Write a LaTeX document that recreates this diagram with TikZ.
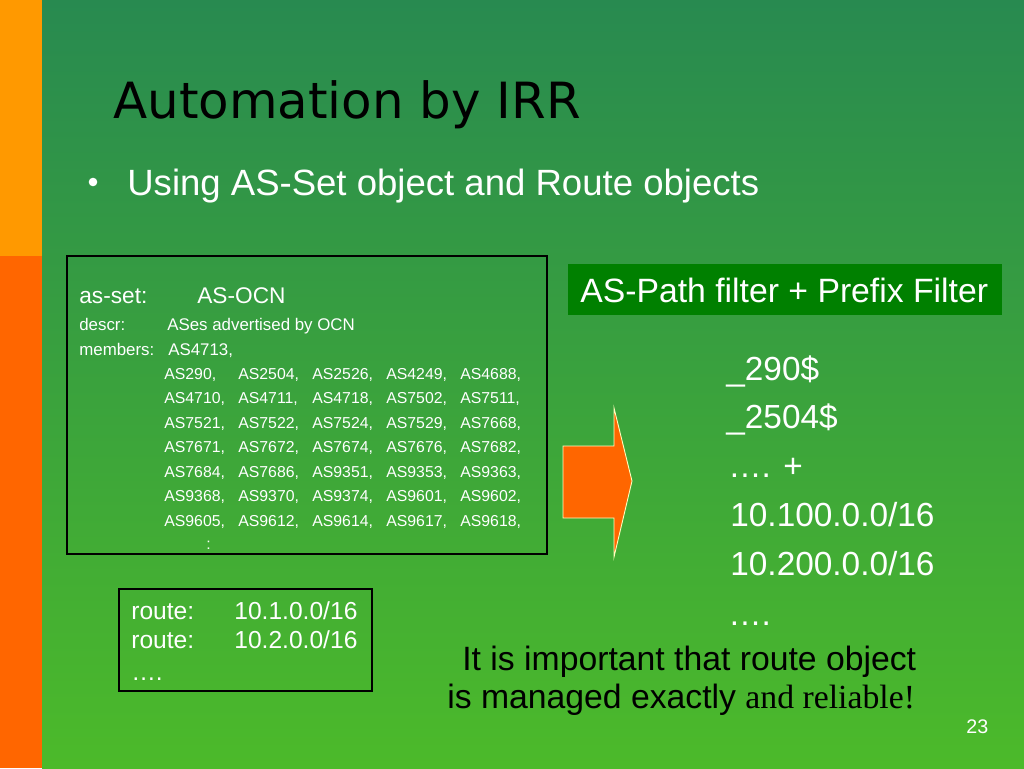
\documentclass[tikz,border=0pt]{standalone}
\usepackage{fontspec}
\setmainfont{Liberation Sans}
\newfontfamily\titlefont{DejaVu Sans}
\newfontfamily\romanfont{Liberation Serif}
\usepackage{tikz}
\usetikzlibrary{positioning}
\definecolor{bgtop}{RGB}{40,138,80}
\definecolor{bgbot}{RGB}{76,186,42}
\definecolor{striporange}{RGB}{255,153,0}
\definecolor{stripred}{RGB}{255,102,0}
\definecolor{filtergreen}{RGB}{0,128,0}
\definecolor{arrowedge}{RGB}{255,255,190}
\tikzstyle{txt} = [anchor=base west,inner sep=0pt,text=white]
\tikzstyle{asitem} = [txt,font=\fontsize{9}{11}\selectfont]
\tikzstyle{rpsl} = [txt,font=\fontsize{9.6}{11}\selectfont]
\tikzstyle{routetxt} = [txt,font=\fontsize{14}{17}\selectfont]
\tikzstyle{big} = [txt,font=\fontsize{19}{23}\selectfont]

\begin{document}
\begin{tikzpicture}[x=0.02cm,y=-0.02cm]
\useasboundingbox (0,0) rectangle (1024,768);
% background
\shade[top color=bgtop,bottom color=bgbot] (42,0) rectangle (1024,768);
\fill[striporange] (0,0) rectangle (42,256);
\fill[stripred] (0,256) rectangle (42,768);

% title and bullet
\node[anchor=base west,inner sep=0pt,font=\titlefont\fontsize{28.4}{32}\selectfont] (title) at (113,118) {Automation by IRR};
\fill[white] (93,182) circle (4.3);
\node[txt,font=\fontsize{20.8}{24}\selectfont] (bullet) at (127,195) {Using AS-Set object and Route objects};

% as-set object
\draw[line width=1.1pt] (67,256) rectangle (547,554);
\node[txt,font=\fontsize{12.9}{15}\selectfont] (asset) at (79,303) {as-set:};
\node[txt,font=\fontsize{12.9}{15}\selectfont] (asocn) at (197,303) {AS-OCN};
\node[rpsl] (descr) at (79,330) {descr:};
\node[rpsl] (descrtxt) at (167,330) {ASes advertised by OCN};
\node[rpsl] (members) at (79,355) {members:};
\node[rpsl] (first) at (168,355) {AS4713,};
\foreach \row [count=\i] in {{290,2504,2526,4249,4688},{4710,4711,4718,7502,7511},{7521,7522,7524,7529,7668},{7671,7672,7674,7676,7682},{7684,7686,9351,9353,9363},{9368,9370,9374,9601,9602},{9605,9612,9614,9617,9618}}
{
 \foreach \n [count=\j] in \row
 {
  \node[asitem] (as\n) at ({164+74*(\j-1)},{379+24.5*(\i-1)}) {AS\n,};
 }
}
\node[asitem] (more) at (206,549) {:};

% route objects
\draw[thick] (119,589) rectangle (372,691);
\foreach \y/\pfx [count=\k] in {619/{10.1.0.0/16},648/{10.2.0.0/16}}
{
 \node[routetxt] (route\k) at (131,\y) {route:};
 \node[routetxt] (prefix\k) at (234,\y) {\pfx};
}
\node[routetxt] (routedots) at (131,680) {….};

% arrow
\draw[fill=stripred,draw=arrowedge,line width=0.5pt] (563,446) -- (614,446) -- (614,408) -- (632,481) -- (614,557) -- (614,518) -- (563,518) -- cycle;

% filters
\fill[filtergreen] (568,264) rectangle (1002,315);
\node[txt,font=\fontsize{19.2}{23}\selectfont] (filter) at (580,302) {AS-Path filter + Prefix Filter};
\node[big] (f1) at (726,380) {\_290\$};
\node[big] (f2) at (726,428) {\_2504\$};
\node[big] (f3) at (728,477) {…. +};
\node[big] (f4) at (730,526) {10.100.0.0/16};
\node[big] (f5) at (730,575) {10.200.0.0/16};
\node[big] (f6) at (728,625) {….};

% note
\node[txt,text=black,font=\fontsize{19.2}{23}\selectfont] (note1) at (462,670) {It is important that route object};
\node[txt,text=black,font=\fontsize{19.2}{23}\selectfont] (note2) at (447,708) {is managed exactly {\romanfont and reliable!}};
\node[txt,font=\fontsize{11.2}{13}\selectfont] (page) at (966,733) {23};
\end{tikzpicture}
\end{document}
